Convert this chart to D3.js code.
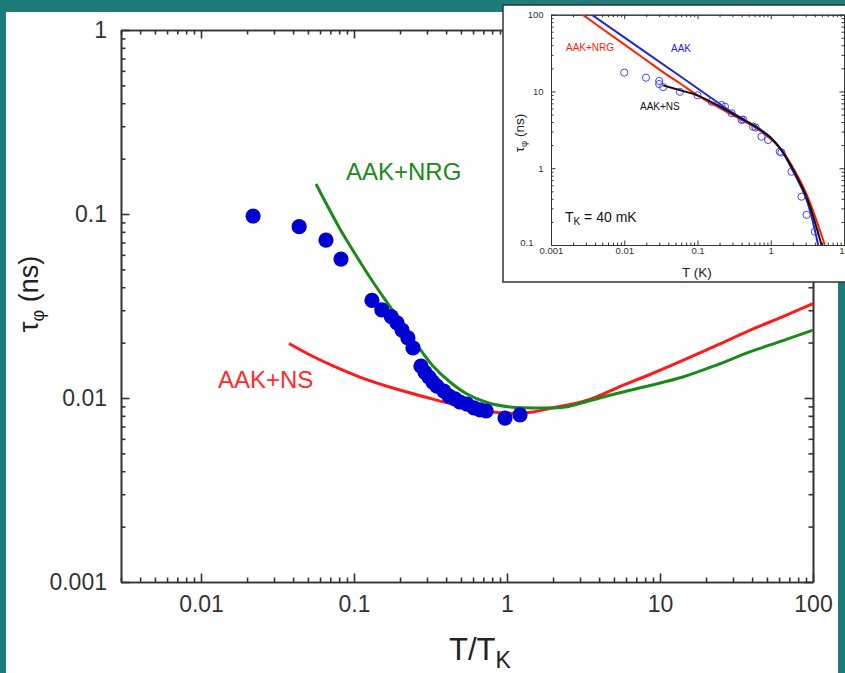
<!DOCTYPE html>
<html><head><meta charset="utf-8">
<script src="https://cdn.jsdelivr.net/npm/d3@7"></script>
<style>
body{margin:0;background:#1f7a7a;}
svg{display:block;}
text{font-family:"Liberation Sans",Arial,sans-serif;}
</style>
</head><body>
<svg id="c" width="845" height="673"></svg>
<script>
// ---------- DATA ----------
// main chart axes
const mainXTicks = [0.01, 0.1, 1, 10, 100];
const mainXLabels = ["0.01", "0.1", "1", "10", "100"];
const mainYTicks = [0.001, 0.01, 0.1, 1];
const mainYLabels = ["0.001", "0.01", "0.1", "1"];

// experimental points (T/TK, tau_phi ns)
const expT   = [0.0219,0.0438,0.0656,0.0822,0.131,0.152,0.175,0.191,0.206,0.225,0.243,0.274,0.291,0.309,0.328,0.348,0.387,0.418,0.457,0.493,0.548,0.608,0.667,0.730,0.970,1.216];
const expTau = [0.0975,0.0853,0.0722,0.0569,0.0339,0.0301,0.0277,0.0256,0.0234,0.0212,0.0187,0.0149,0.0138,0.0130,0.0122,0.0116,0.0109,0.01025,0.00988,0.00951,0.00927,0.00883,0.00861,0.00850,0.00778,0.00809];

// AAK+NRG (green)
const nrgT   = [0.0565,0.0666,0.0810,0.1046,0.1331,0.1799,0.258,0.328,0.424,0.548,0.740,1.046,1.643,2.394,3.14,5.21,8.60,14.1,23.4,38.6,63.6,100];
const nrgTau = [0.1456,0.1119,0.0829,0.0584,0.0427,0.0297,0.0194,0.01493,0.01222,0.01051,0.00945,0.00893,0.00883,0.00893,0.00945,0.01058,0.01169,0.0130,0.0151,0.0178,0.0205,0.0234];

// AAK+NS (red)
const nsT   = [0.0376,0.0524,0.0730,0.109,0.180,0.299,0.493,0.809,1.13,1.48,1.91,3.14,4.04,5.21,8.60,14.1,23.4,38.6,63.6,100];
const nsTau = [0.01978,0.01702,0.01493,0.0130,0.01133,0.01006,0.00905,0.00839,0.00824,0.00839,0.00877,0.00957,0.01032,0.01133,0.01342,0.0160,0.0193,0.0233,0.0277,0.0326];

// inset axes
const insXTicks = [0.001, 0.01, 0.1, 1, 10];
const insXLabels = ["0.001", "0.01", "0.1", "1", "10"];
const insYTicks = [0.1, 1, 10, 100];
const insYLabels = ["0.1", "1", "10", "100"];

// inset: AAK (blue line)
const aakT   = [0.00359,0.0575,0.202,0.3,0.42,0.64,1.0,1.4,1.92,3.08,4.43];
const aakTau = [100,15.9,6.87,5.3,4.35,3.45,2.5,1.7,1.0,0.39,0.1];
// inset: AAK+NRG (red line)
const iNrgT   = [0.0027,0.01,0.02,0.035,0.0575,0.1,0.224,0.64,1.0,1.4,1.92,3.08,5.47];
const iNrgTau = [100,41,25.6,17.5,12.8,8.9,5.74,3.3,2.4,1.75,1.1,0.46,0.1];
// inset: AAK+NS (black line)
const iNsT   = [0.034,0.0575,0.1,0.224,0.42,0.64,1.0,1.4,1.92,3.08,4.93];
const iNsTau = [12.0,10.4,8.9,6.04,4.3,3.4,2.5,1.72,1.05,0.42,0.1];
// inset: measured (open circles), T in K
const iExpT   = [0.01,0.0198,0.030,0.030,0.034,0.0575,0.1,0.156,0.212,0.237,0.292,0.40,0.42,0.575,0.62,0.748,0.922,1.33,1.40,1.92,2.63,3.08,4.0];
const iExpTau = [17.6,15.1,13.7,12.5,11.4,9.9,8.9,7.36,6.67,6.34,5.2,4.26,4.3,3.48,3.4,2.58,2.33,1.64,1.6,0.90,0.426,0.247,0.149];

// ---------- DRAW ----------
const svg = d3.select("#c");
svg.append("rect").attr("x",6).attr("y",12).attr("width",832).attr("height",661).attr("fill","#ffffff");

function minorTicks(scale){
  return scale.ticks().filter(v => Math.abs(Math.log10(v) - Math.round(Math.log10(v))) > 1e-6);
}
function styleAxis(sel, fs, sw){
  sel.attr("font-family",null).attr("font-size",fs);
  sel.select(".domain").attr("stroke","#333").attr("stroke-width",sw);
  sel.selectAll(".tick line").attr("stroke","#333").attr("stroke-width",sw);
  sel.selectAll(".tick text").attr("fill","#333");
  return sel;
}
function frame(g, x, y, o){
  const [x0,x1] = x.range(), [y0,y1] = y.range();
  const xm = minorTicks(x), ym = minorTicks(y);
  const defs = [
    {ax:d3.axisBottom, s:x, t:`translate(0,${y0})`},
    {ax:d3.axisTop, s:x, t:`translate(0,${y1})`},
    {ax:d3.axisLeft, s:y, t:`translate(${x0},0)`},
    {ax:d3.axisRight, s:y, t:`translate(${x1},0)`}
  ];
  const out = [];
  defs.forEach((d,i)=>{
    const isX = i<2;
    const mn = isX ? xm : ym;
    const mj = isX ? o.xTicks : o.yTicks;
    const a1 = d.ax(d.s).tickValues(mn).tickSize(-o.minLen).tickSizeOuter(0).tickFormat("");
    styleAxis(g.append("g").attr("transform",d.t).call(a1), o.fs, o.sw);
    let a2 = d.ax(d.s).tickValues(mj).tickSize(-o.majLen).tickSizeOuter(0);
    if(i===0) a2 = a2.tickFormat((v,k)=>o.xLabels[k]).tickPadding(o.xPad);
    else if(i===2) a2 = a2.tickFormat((v,k)=>o.yLabels[k]).tickPadding(o.yPad);
    else a2 = a2.tickFormat("");
    out.push(styleAxis(g.append("g").attr("transform",d.t).call(a2), o.fs, o.sw));
  });
  return out;
}

// ---- main chart ----
const x = d3.scaleLog().domain([0.003,100]).range([121,813]);
const y = d3.scaleLog().domain([0.001,1]).range([582,30]);
const gm = svg.append("g");
frame(gm, x, y, {xTicks:mainXTicks, yTicks:mainYTicks, xLabels:mainXLabels, yLabels:mainYLabels,
  minLen:4.5, majLen:8.5, fs:23, sw:1.6, xPad:14, yPad:14});

const line = (sx, sy) => d3.line().x(d=>sx(d[0])).y(d=>sy(d[1])).curve(d3.curveCatmullRom.alpha(0.5));
const zip = (a,b) => a.map((v,i)=>[v,b[i]]);

gm.append("path").datum(zip(nsT,nsTau)).attr("d",line(x,y)).attr("fill","none").attr("stroke","#ff1a1a").attr("stroke-width",3);
gm.append("path").datum(zip(nrgT,nrgTau)).attr("d",line(x,y)).attr("fill","none").attr("stroke","#1a8a1a").attr("stroke-width",3);
gm.selectAll("circle.exp").data(zip(expT,expTau)).join("circle").attr("class","exp")
  .attr("cx",d=>x(d[0])).attr("cy",d=>y(d[1])).attr("r",7.6).attr("fill","#0000d2");

gm.append("text").attr("x",346).attr("y",180).attr("font-size",24).attr("fill","#1a8a1a").text("AAK+NRG");
gm.append("text").attr("x",218).attr("y",388).attr("font-size",24).attr("fill","#ff2a2a").text("AAK+NS");

// axis titles
const xt = gm.append("text").attr("x",449).attr("y",660).attr("font-size",31).attr("fill","#222");
xt.append("tspan").text("T/T");
xt.append("tspan").attr("font-size",23).attr("dy",8).text("K");

const yt = gm.append("text").attr("transform","translate(38,294) rotate(-90)").attr("text-anchor","middle").attr("font-size",27).attr("fill","#222");
yt.append("tspan").text("τ");
yt.append("tspan").attr("font-size",18).attr("dy",6).text("φ");
yt.append("tspan").attr("dy",-6).text(" (ns)");

// ---- inset ----
svg.append("rect").attr("x",503).attr("y",5).attr("width",360).attr("height",277)
  .attr("fill","#ffffff").attr("stroke","#333").attr("stroke-width",1.5);
const xi = d3.scaleLog().domain([0.001,10]).range([551,844]);
const yi = d3.scaleLog().domain([0.1,100]).range([245,14.7]);
const gi = svg.append("g");
const ia = frame(gi, xi, yi, {xTicks:insXTicks, yTicks:insYTicks, xLabels:insXLabels, yLabels:insYLabels,
  minLen:2.5, majLen:4.5, fs:9.5, sw:1, xPad:2.5, yPad:7.5});
// bottom-left "0.1" label sits further left and slightly up, as in the original
ia[2].selectAll(".tick text").filter(d=>d===0.1).attr("x",-17.5).attr("dy","0.1em");

gi.append("clipPath").attr("id","ic").append("rect").attr("x",551).attr("y",14.7).attr("width",293).attr("height",230.3);
const gl = gi.append("g").attr("clip-path","url(#ic)");
gl.append("path").datum(zip(aakT,aakTau)).attr("d",line(xi,yi)).attr("fill","none").attr("stroke","#2424dc").attr("stroke-width",2);
gl.append("path").datum(zip(iNrgT,iNrgTau)).attr("d",line(xi,yi)).attr("fill","none").attr("stroke","#ff2200").attr("stroke-width",2);
gl.selectAll("circle.ie").data(zip(iExpT,iExpTau)).join("circle").attr("class","ie")
  .attr("cx",d=>xi(d[0])).attr("cy",d=>yi(d[1])).attr("r",3.6).attr("fill","none").attr("stroke","#4646ff").attr("stroke-width",1);
gl.append("path").datum(zip(iNsT,iNsTau)).attr("d",line(xi,yi)).attr("fill","none").attr("stroke","#111").attr("stroke-width",2);

gi.append("text").attr("x",566).attr("y",51).attr("font-size",10).attr("fill","#ff2200").text("AAK+NRG");
gi.append("text").attr("x",671).attr("y",51.5).attr("font-size",10).attr("fill","#2424dc").text("AAK");
gi.append("text").attr("x",640).attr("y",110).attr("font-size",10).attr("fill","#111").text("AAK+NS");
const tk = gi.append("text").attr("x",565).attr("y",221.5).attr("font-size",14).attr("fill","#111");
tk.append("tspan").text("T");
tk.append("tspan").attr("font-size",10).attr("dy",3).text("K");
tk.append("tspan").attr("dy",-3).text(" = 40 mK");

gi.append("text").attr("x",682).attr("y",276.5).attr("font-size",13.5).attr("fill","#222").text("T (K)");
const iyt = gi.append("text").attr("transform","translate(524,133) rotate(-90)").attr("text-anchor","middle").attr("font-size",13.5).attr("fill","#222");
iyt.append("tspan").text("τ");
iyt.append("tspan").attr("font-size",9.5).attr("dy",3).text("φ");
iyt.append("tspan").attr("dy",-3).text(" (ns)");
</script>
</body></html>
